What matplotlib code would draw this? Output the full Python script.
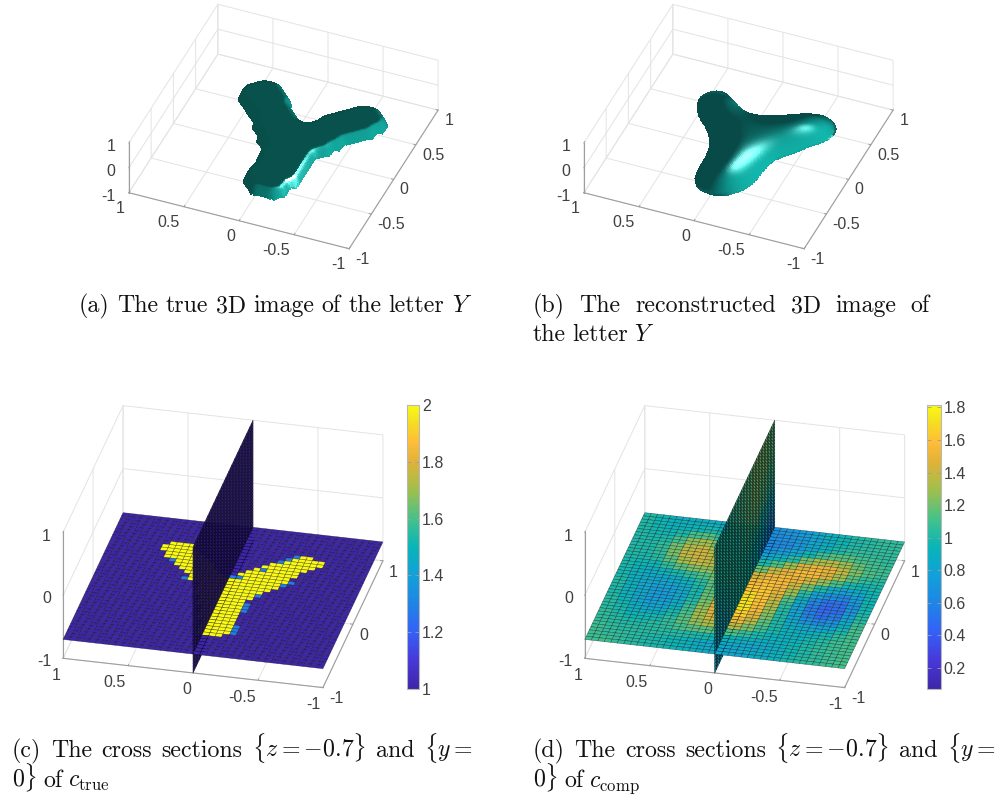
import numpy as np
import matplotlib
matplotlib.use("Agg")
import matplotlib.pyplot as plt
from matplotlib.colors import LinearSegmentedColormap, Normalize
from matplotlib.cm import ScalarMappable
from matplotlib.path import Path
from mpl_toolkits.mplot3d.art3d import Poly3DCollection

W, H = 997, 797
plt.rcParams['font.family'] = ['Liberation Sans', 'DejaVu Sans']
plt.rcParams['mathtext.fontset'] = 'cm'
plt.rcParams['axes.unicode_minus'] = False
TICK_COLOR = (0.25, 0.25, 0.25)
AXIS_COLOR = (0.62, 0.62, 0.62)
GRID_COLOR = (0.89, 0.89, 0.89)

# ---- data -----------------------------------------------------------------
# silhouette of the true letter Y (x, y)
TRUE_X = [.211,.335,.417,.471,.425,.338,.247,.158,.026,.056,.159,.276,.372,.456,.451,.395,.302,.209,
          .062,-.030,-.196,-.351,-.481,-.775,-.910,-.972,-.983,-.974,-.852,-.752,-.581,-.416,-.293,-.174,.006,.150]
TRUE_Y = [.481,.495,.412,.313,.189,.108,.035,-.041,-.130,-.203,-.282,-.357,-.454,-.541,-.649,-.748,-.816,-.823,
          -.731,-.647,-.532,-.444,-.420,-.403,-.367,-.271,-.184,-.089,.026,.015,.009,.015,.126,.189,.337,.456]
# silhouette of the reconstructed letter Y
REC_X = [.114,.222,.313,.378,.388,.327,.240,.163,.158,.221,.325,.399,.408,.343,.268,.173,.059,-.076,
         -.242,-.346,-.501,-.677,-.814,-.916,-.937,-.912,-.823,-.691,-.544,-.383,-.259,-.128,-.025]
REC_Y = [.426,.455,.431,.366,.280,.194,.114,.007,-.101,-.257,-.397,-.519,-.637,-.738,-.790,-.792,-.747,-.650,
         -.536,-.457,-.429,-.409,-.343,-.233,-.120,-.004,.072,.101,.094,.110,.160,.253,.355]
# where the highlights sit: (x, y, spread)
TRUE_SPOTS = [(-.74, -.37, .1), (-.55, -.40, .14)]
REC_SPOTS = [(-.50, -.337, .15), (.114, -.695, .11)]

# c_true on the plane z=-0.7: (row of x, first column of y, last column of y) at value 2
TRUE_YELLOW = [(6,17,20),(7,16,20),(8,16,20),(9,16,20),(10,16,20),(11,16,21),(12,16,21),(13,16,21),(14,16,21),
               (15,16,22),(16,16,22),(17,16,22),(18,15,23),(19,15,23),(20,14,23),(21,13,23),(22,12,25),(23,12,25),
               (24,11,18),(24,21,26),(25,11,18),(25,22,27),(26,10,17),(26,23,28),(27,10,16),(27,23,28),
               (28,9,15),(28,24,30),(29,8,14),(29,25,30),(30,7,13),(30,26,31),(31,7,12),(31,27,31),(32,9,11),(32,27,30)]
# cells with an intermediate value
TRUE_BLUE = [(24,19),(24,20),(24,18),(27,15),(30,13),(31,12),(32,11),(19,14),(23,11),(24,10),(16,15),(15,15),
             (14,15),(9,15),(8,15),(7,15),(27,29),(22,26)]

# c_comp on the plane z=-0.7, rows x=0.95..-0.95, columns y=0.95..-0.95
COMP_FLOOR = [
 [1.0,.95,.92,.9,.9,.9,.85,.82,.78,.72,.68,.70,.75,.82,.9,.95,1.0,1.02,1.05,1.05],
 [1.0,.95,.92,.92,.95,.98,.92,.85,.78,.72,.65,.66,.72,.8,.88,.95,1.0,1.02,1.05,1.05],
 [1.0,.97,.95,1.0,1.1,1.15,1.05,.92,.8,.7,.62,.64,.72,.82,.92,1.0,1.05,1.05,1.05,1.05],
 [1.0,.98,1.0,1.1,1.25,1.3,1.2,1.05,.88,.75,.68,.72,.82,.95,1.08,1.15,1.15,1.1,1.08,1.05],
 [1.0,1.0,1.05,1.2,1.35,1.4,1.32,1.15,.98,.85,.82,.9,1.02,1.2,1.32,1.35,1.28,1.18,1.1,1.08],
 [1.0,1.0,1.05,1.22,1.38,1.42,1.38,1.25,1.08,.98,1.0,1.12,1.28,1.45,1.52,1.5,1.38,1.22,1.12,1.08],
 [1.0,.98,1.02,1.15,1.3,1.38,1.36,1.28,1.18,1.12,1.2,1.38,1.48,1.55,1.55,1.45,1.3,1.15,1.05,1.02],
 [.98,.95,.95,1.05,1.15,1.22,1.25,1.25,1.25,1.3,1.42,1.52,1.55,1.5,1.4,1.25,1.1,.98,.95,.98],
 [.98,.92,.88,.92,.98,1.05,1.12,1.2,1.3,1.42,1.55,1.6,1.55,1.4,1.2,1.0,.85,.78,.85,.95],
 [.98,.9,.85,.82,.85,.92,1.02,1.15,1.32,1.5,1.62,1.62,1.5,1.28,1.02,.78,.65,.62,.75,.95],
 [1.0,.9,.82,.78,.78,.85,.98,1.15,1.35,1.55,1.68,1.62,1.42,1.15,.88,.62,.5,.5,.68,.95],
 [1.0,.9,.82,.75,.75,.82,.98,1.18,1.4,1.62,1.72,1.6,1.35,1.05,.8,.55,.45,.48,.7,.98],
 [1.0,.92,.82,.75,.75,.85,1.02,1.22,1.45,1.65,1.72,1.55,1.28,1.0,.78,.58,.48,.55,.78,1.02],
 [1.02,.95,.85,.78,.8,.9,1.08,1.28,1.48,1.62,1.65,1.48,1.22,1.0,.82,.68,.62,.68,.88,1.08],
 [1.02,.98,.9,.85,.88,.98,1.12,1.3,1.42,1.52,1.52,1.35,1.15,1.0,.88,.82,.8,.85,.98,1.1],
 [1.05,1.0,.95,.95,.98,1.05,1.15,1.25,1.32,1.35,1.35,1.22,1.08,.98,.92,.9,.92,.98,1.05,1.1],
 [1.05,1.02,1.0,1.0,1.02,1.05,1.1,1.15,1.15,1.15,1.12,1.05,.98,.92,.9,.92,.98,1.02,1.08,1.1],
 [1.08,1.05,1.02,1.02,1.02,1.02,1.02,1.0,.98,.95,.92,.9,.88,.88,.9,.95,1.0,1.05,1.08,1.1],
 [1.08,1.05,1.05,1.02,1.0,.98,.95,.92,.88,.85,.82,.82,.82,.85,.9,.95,1.0,1.05,1.08,1.1],
 [1.08,1.08,1.05,1.02,1.0,.98,.95,.92,.88,.85,.82,.82,.85,.88,.92,.98,1.02,1.05,1.08,1.1],
]
# c_comp on the plane y=0, rows z=0.875..-0.875, columns x=-0.875..0.875
COMP_WALL = [
 [1.0,1.0,1.05,1.1,1.15,1.2,1.2,1.15],
 [1.0,1.0,1.05,1.1,1.15,1.2,1.2,1.15],
 [1.0,1.0,1.0,1.05,1.15,1.2,1.15,1.1],
 [.95,1.0,1.0,1.05,1.1,1.15,1.1,1.05],
 [.9,.95,1.0,1.0,1.05,1.05,.95,.9],
 [.85,.9,.95,1.0,1.0,.95,.85,.7],
 [.8,.85,.9,.95,.95,.85,.7,.6],
 [.8,.8,.85,.9,.9,.8,.7,.6],
]
PARULA_T = [0, .1, .2, .3, .4, .5, .6, .7, .8, .87, .94, 1]
PARULA_RGB = [(.2422,.1504,.6603),(.28,.22,.85),(.2,.38,.97),(.12,.52,.90),(.07,.63,.85),(.03,.71,.72),
              (.27,.76,.54),(.62,.75,.30),(.88,.70,.22),(1.0,.74,.22),(.96,.87,.13),(.98,.98,.08)]
XY_TICKS = [-1, -.5, 0, .5, 1]
XY_LABELS = ['-1', '-0.5', '0', '0.5', '1']
Z_TICKS = [-1, 0, 1]
Z_LABELS = ['-1', '0', '1']
CB_TRUE_TICKS = [1, 1.2, 1.4, 1.6, 1.8, 2]
CB_TRUE_LABELS = ['1', '1.2', '1.4', '1.6', '1.8', '2']
CB_COMP_TICKS = [.2, .4, .6, .8, 1, 1.2, 1.4, 1.6, 1.8]
CB_COMP_LABELS = ['0.2', '0.4', '0.6', '0.8', '1', '1.2', '1.4', '1.6', '1.8']
# --------------------------------------------------------------------------

parula = LinearSegmentedColormap.from_list('parula', list(zip(PARULA_T, PARULA_RGB)), N=256)
fig = plt.figure(figsize=(W / 100, H / 100), dpi=100)
LABEL_SIZE = 11.5


def axes3d(cx, cy, side, elev, azim, zaspect, x_ticks, x_labels, pads):
    """3-D axes whose box centre falls on pixel (cx, cy)."""
    left = cx - 0.5135 * side
    bottom = (H - cy) - 0.5135 * side
    ax = fig.add_axes([left / W, bottom / H, side / W, side / H], projection='3d')
    ax.set_proj_type('ortho')
    ax.view_init(elev=elev, azim=azim)
    ax.set_box_aspect((1, 1, zaspect))
    ax.patch.set_alpha(0)
    ax.computed_zorder = False
    ax.set_xlim(-1, 1); ax.set_ylim(-1, 1); ax.set_zlim(-1, 1)
    ax.set_xticks(x_ticks); ax.set_xticklabels(x_labels)
    ax.set_yticks(XY_TICKS); ax.set_yticklabels(XY_LABELS)
    ax.set_zticks(Z_TICKS); ax.set_zticklabels(Z_LABELS)
    for axis in (ax.xaxis, ax.yaxis, ax.zaxis):
        axis.set_pane_color((1, 1, 1, 0))
        axis.pane.set_edgecolor(GRID_COLOR)
        axis.line.set_color(AXIS_COLOR)
        axis.line.set_linewidth(0.8)
        axis._axinfo['grid'].update(color=GRID_COLOR, linewidth=0.7)
        axis._axinfo['tick'].update(inward_factor=0.0, outward_factor=0.12, linewidth={True: .7, False: .7})
    for name, pad in zip('xyz', pads):
        ax.tick_params(axis=name, labelsize=LABEL_SIZE, labelcolor=TICK_COLOR, pad=pad, color=AXIS_COLOR)
    for lab in ax.get_xticklabels():
        lab.set_ha('left'); lab.set_va('top')
    for lab in ax.get_yticklabels():
        lab.set_ha('right'); lab.set_va('top')
    for lab in ax.get_zticklabels():
        lab.set_ha('right'); lab.set_va('center')
    return ax


def blur(a, width, passes):
    k = np.ones(width) / width
    for _ in range(passes):
        a = np.apply_along_axis(lambda v: np.convolve(v, k, 'same'), 0, a)
        a = np.apply_along_axis(lambda v: np.convolve(v, k, 'same'), 1, a)
    return a


def letter(ax, xs, ys, shift, half, quant, smooth, round_w, bw, zblur, dark, mid, spec_gain, spec_pow, L, Hv, spots):
    N = 280
    xs = np.r_[xs, xs[0]]; ys = np.r_[ys, ys[0]]
    s = np.r_[0, np.cumsum(np.hypot(np.diff(xs), np.diff(ys)))]
    u = np.linspace(0, s[-1], 721)[:-1]
    ox, oy = np.interp(u, s, xs), np.interp(u, s, ys)
    if smooth:
        k = np.ones(smooth) / smooth
        ox = np.convolve(np.r_[ox[-smooth:], ox, ox[:smooth]], k, 'same')[smooth:-smooth]
        oy = np.convolve(np.r_[oy[-smooth:], oy, oy[:smooth]], k, 'same')[smooth:-smooth]
    path = Path(np.c_[ox, oy])
    g = np.linspace(-1, 1, N + 1)
    X, Y = np.meshgrid(g, g, indexing='ij')
    qx, qy = (np.round(X / quant) * quant, np.round(Y / quant) * quant) if quant else (X, Y)
    inside = path.contains_points(np.c_[qx.ravel(), qy.ravel()]).reshape(X.shape)
    inside &= path.contains_points(np.c_[qx.ravel() + shift[0], qy.ravel() + shift[1]]).reshape(X.shape)
    if round_w:
        inside = blur(inside.astype(float), round_w, 2) > 0.42
    t = np.clip(2 * blur(inside.astype(float), bw, 2) - 1, 0, 1)
    Z = half * np.sqrt(t) * inside
    Z = blur(Z, zblur, 1) * inside
    dzx, dzy = np.gradient(Z, g, g)
    n = np.dstack([-dzx, -dzy, np.ones_like(Z)])
    n /= np.linalg.norm(n, axis=2, keepdims=True)
    L = np.array(L) / np.linalg.norm(L); Hv = np.array(Hv) / np.linalg.norm(Hv)
    dif = np.clip(n @ L, 0, 1)[..., None]
    sp = (np.clip(n @ Hv, 0, 1) ** spec_pow)[..., None]
    weight = sum(np.exp(-((X - a) ** 2 + (Y - b) ** 2) / (2 * c ** 2)) for a, b, c in spots)[..., None]
    rgb = np.clip(np.array(dark) + (np.array(mid) - np.array(dark)) * dif + spec_gain * sp * weight, 0, 1)
    keep = inside[:-1, :-1] & inside[1:, :-1] & inside[:-1, 1:] & inside[1:, 1:]
    i, j = np.nonzero(keep)
    verts = np.stack([np.c_[X[a, b], Y[a, b], Z[a, b]]
                      for a, b in ((i, j), (i + 1, j), (i + 1, j + 1), (i, j + 1))], axis=1)
    col = Poly3DCollection(verts, facecolors=rgb[i, j], edgecolors='none', linewidths=0, antialiaseds=False)
    ax.add_collection3d(col)


def slices(ax, floor, wall, cmap, norm):
    n = 40
    xv = np.linspace(-1, 1, n + 1)
    yv = np.linspace(-1, 1, n + 1)
    X, Y = np.meshgrid(xv, yv, indexing='ij')
    Zf = np.full_like(X, -0.7)
    fc = cmap(norm(floor))
    kw = dict(rstride=1, cstride=1, shade=False, edgecolor=(0, 0, 0, 0.5), linewidth=0.38)
    kw_wall = dict(rstride=1, cstride=1, shade=False, edgecolor=(0, 0, 0, 0.7), linewidth=0.42)
    # far half of the floor, the wall, near half of the floor
    ax.plot_surface(X[:, 20:], Y[:, 20:], Zf[:, 20:], facecolors=fc[:, 20:], zorder=1, **kw)
    XW, ZW = np.meshgrid(xv, yv, indexing='xy')
    ax.plot_surface(XW, np.zeros_like(XW), ZW, facecolors=cmap(norm(wall)), zorder=2, **kw_wall)
    ax.plot_surface(X[:, :21], Y[:, :21], Zf[:, :21], facecolors=fc[:, :21], zorder=3, **kw)


def colorbar(x0, x1, y0, y1, norm, ticks, labels):
    cax = fig.add_axes([x0 / W, (H - y1) / H, (x1 - x0) / W, (y1 - y0) / H])
    cb = fig.colorbar(ScalarMappable(norm=norm, cmap=parula), cax=cax, ticks=ticks)
    cb.ax.set_yticklabels(labels)
    cb.ax.tick_params(direction='in', length=3, width=.6, color=AXIS_COLOR, labelsize=LABEL_SIZE,
                      labelcolor=TICK_COLOR, pad=2, right=True, left=True)
    cb.ax.minorticks_off()
    cb.outline.set_edgecolor((.72, .72, .72))
    cb.outline.set_linewidth(.8)


def line(words, x0, x1, y, size=17.2):
    """Place the words of one caption line; x1 gives a justified right edge."""
    arts = [fig.text(0, 1 - y / H, w, fontsize=size, family='cmr10', color='#111111', va='baseline') for w in words]
    r = fig.canvas.get_renderer()
    widths = [a.get_window_extent(r).width for a in arts]
    gap = 6.0 if x1 is None else (x1 - x0 - sum(widths)) / (len(words) - 1)
    x = x0
    for a, w in zip(arts, widths):
        a.set_x(x / W)
        x += w + gap


PADS = (-4.5, -2.5, -2.5)

# (a) true letter
ax = axes3d(283.5, 126.5, 332, 39, 202, .27, XY_TICKS, XY_LABELS, PADS)
letter(ax, TRUE_X, TRUE_Y, (.02, .01), .4, .05, 0, 9, 7, 5, (.03, .31, .29), (.07, .66, .62), 1.3, 16,
       (-.35, -.94, .02), (-.4, -.9, .6), TRUE_SPOTS)
# (b) reconstruction
ax = axes3d(738.5, 126.5, 332, 39, 202, .27, XY_TICKS, XY_LABELS, PADS)
letter(ax, REC_X, REC_Y, (0, 0), .4, 0, 21, 0, 45, 11, (.03, .29, .28), (.07, .72, .68), 1.0, 20,
       (-.13, -.99, .15), (-.55, -.83, 1.6), REC_SPOTS)

XC_TICKS, XC_LABELS = Z_TICKS, Z_LABELS
# (c) c_true
floor_true = np.ones((40, 40))
for i, a, b in TRUE_YELLOW:
    floor_true[i, a:b + 1] = 2
for i, j in TRUE_BLUE:
    floor_true[i, j] = 1.28
norm_true = Normalize(1, 2)
ax = axes3d(223, 546.6, 392, 29.2, 193, .541, XC_TICKS, XC_LABELS, PADS)
slices(ax, floor_true, np.ones((40, 40)), parula, norm_true)
colorbar(406.7, 419, 405, 689, norm_true, CB_TRUE_TICKS, CB_TRUE_LABELS)

# (d) c_comp
floor_comp = np.repeat(np.repeat(np.array(COMP_FLOOR)[::-1, ::-1], 2, axis=0), 2, axis=1)
wall_comp = np.repeat(np.repeat(np.array(COMP_WALL)[::-1], 5, axis=0), 5, axis=1)
norm_comp = Normalize(.07, 1.815)
ax = axes3d(744.7, 546.6, 392, 29.2, 193, .541, XC_TICKS, XC_LABELS, PADS)
slices(ax, floor_comp, wall_comp, parula, norm_comp)
colorbar(927.3, 940.7, 405, 689, norm_comp, CB_COMP_TICKS, CB_COMP_LABELS)

# captions
line(['(a)', 'The', 'true', '3D', 'image', 'of', 'the', 'letter', '$Y$'], 79, 472, 312)
line(['(b)', 'The', 'reconstructed', '3D', 'image', 'of'], 533, 930, 312)
line(['the', 'letter', '$Y$'], 533, None, 341)
line(['(c)', 'The', 'cross', 'sections', r'$\{z=-0.7\}$', 'and', r'$\{y=$'], 12, 473, 757)
line([r'$0\}$', 'of', r'$c_{\mathrm{true}}$'], 12, None, 787)
line(['(d)', 'The', 'cross', 'sections', r'$\{z=-0.7\}$', 'and', r'$\{y=$'], 533, 996, 757)
line([r'$0\}$', 'of', r'$c_{\mathrm{comp}}$'], 533, None, 787)

fig.savefig('out.png', dpi=100)
